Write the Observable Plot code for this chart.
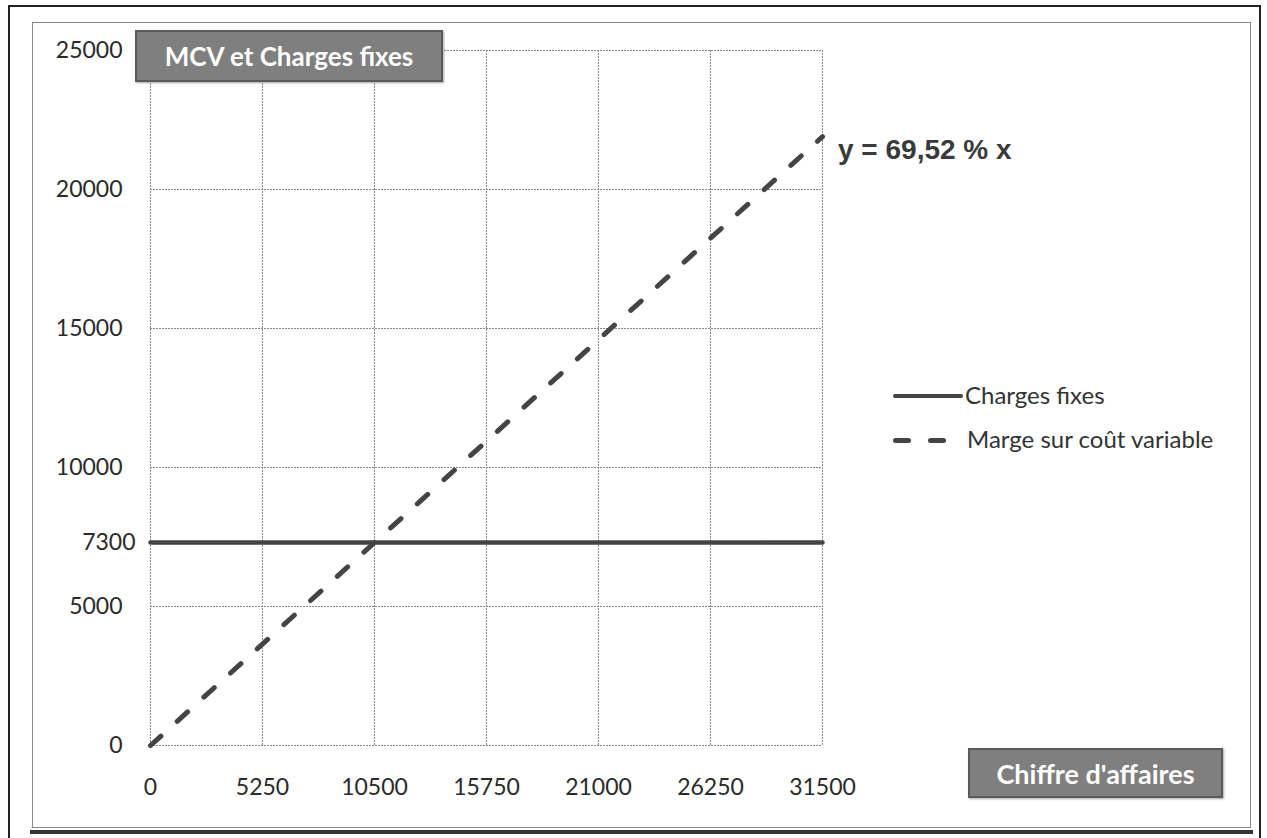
<!DOCTYPE html>
<html>
<head>
<meta charset="utf-8">
<script src="https://cdn.jsdelivr.net/npm/d3@7"></script>
<script src="https://cdn.jsdelivr.net/npm/@observablehq/plot@0.6"></script>
<style>
  html, body { margin: 0; padding: 0; background: #fff; }
  #wrap { position: relative; width: 1267px; height: 838px; overflow: hidden; font-family: Lato, "Open Sans", sans-serif; }
  #wrap svg { position: absolute; left: 0; top: 0; }
  .abs { position: absolute; }
  .box { background: #7f7f7f; border: 2px solid #5a5a5a; color: #fff; font-weight: bold; display: flex; align-items: center; justify-content: center; box-sizing: border-box; box-shadow: 1px 1px 2px rgba(0,0,0,0.35); white-space: nowrap; }
  .leg { font-size: 24px; color: #333; white-space: nowrap; }
</style>
</head>
<body>
<div id="wrap">
  <div class="abs" style="left:8px;top:5px;width:1253px;height:840px;border-left:2px solid #222;border-top:2px solid #222;border-right:2px solid #222;box-sizing:border-box;"></div>
  <div class="abs" style="left:32px;top:22px;width:1219px;height:806px;border:1px solid #888;box-sizing:border-box;"></div>
  <div class="abs" style="left:30px;top:830px;width:1223px;height:4px;background:#333;"></div>
</div>
<script>
// Data
const xTicks = [0, 5250, 10500, 15750, 21000, 26250, 31500];
const yGrid = [0, 5000, 10000, 15000, 20000, 25000];
const yLabels = [0, 5000, 10000, 15000, 20000, 25000];
const yExtraLabel = [7300];
const caValues = [0, 31500];
const chargesFixes = [7300, 7300];
const margeCV = [0, 21899];
const titleText = "MCV et Charges fixes";
const xTitleText = "Chiffre d'affaires";
const equationText = "y = 69,52 % x";
const seriesNames = ["Charges fixes", "Marge sur coût variable"];

const rows = caValues.map((x, i) => ({x, cf: chargesFixes[i], mcv: margeCV[i]}));

const font = "Lato, 'Open Sans', sans-serif";
const chart = Plot.plot({
  width: 1267,
  height: 838,
  marginLeft: 150,
  marginRight: 445,
  marginTop: 50,
  marginBottom: 93,
  style: {background: "transparent", fontFamily: font},
  x: {domain: [0, 31500], axis: null},
  y: {domain: [0, 25000], axis: null},
  marks: [
    Plot.gridX(xTicks, {stroke: "#8a8a8a", strokeOpacity: 1, strokeDasharray: "2,1"}),
    Plot.gridY(yGrid, {stroke: "#8a8a8a", strokeOpacity: 1, strokeDasharray: "2,1"}),
    Plot.line(rows, {x: "x", y: "cf", stroke: "#444", strokeWidth: 4.5}),
    Plot.line(rows, {x: "x", y: "mcv", stroke: "#444", strokeWidth: 5, strokeDasharray: "14,22", strokeLinecap: "round"}),
    Plot.text(xTicks, {x: d => d, y: () => 0, dy: 42, text: d => String(d), fontSize: 23, fill: "#2a2a2a", textAnchor: "middle"}),
    Plot.text(yLabels, {x: () => 0, y: d => d, dx: -28, text: d => String(d), fontSize: 23, fill: "#2a2a2a", textAnchor: "end"}),
    Plot.text(yExtraLabel, {x: () => 0, y: d => d, dx: -15, text: d => String(d), fontSize: 23, fill: "#2a2a2a", textAnchor: "end"})
  ]
});
const wrap = document.getElementById("wrap");
wrap.appendChild(chart);

function add(html) { wrap.insertAdjacentHTML("beforeend", html); }
add(`<div class="abs box" style="left:135px;top:30px;width:308px;height:52px;font-size:26px;">${titleText}</div>`);
add(`<div class="abs box" style="left:968px;top:748px;width:255px;height:50px;font-size:27px;">${xTitleText}</div>`);
add(`<div class="abs" style="left:838px;top:134px;font-family:'Liberation Sans',Arial,sans-serif;font-weight:bold;font-size:28px;color:#3a3a3a;white-space:nowrap;">${equationText}</div>`);
add(`<div class="abs" style="left:893px;top:394px;width:70px;height:4px;background:#444;border-radius:2px;"></div>`);
add(`<div class="abs leg" style="left:965px;top:380px;">${seriesNames[0]}</div>`);
add(`<div class="abs" style="left:893px;top:438px;width:18px;height:5px;background:#444;border-radius:3px;"></div>`);
add(`<div class="abs" style="left:928px;top:438px;width:18px;height:5px;background:#444;border-radius:3px;"></div>`);
add(`<div class="abs leg" style="left:967px;top:424px;">${seriesNames[1]}</div>`);
</script>
</body>
</html>
